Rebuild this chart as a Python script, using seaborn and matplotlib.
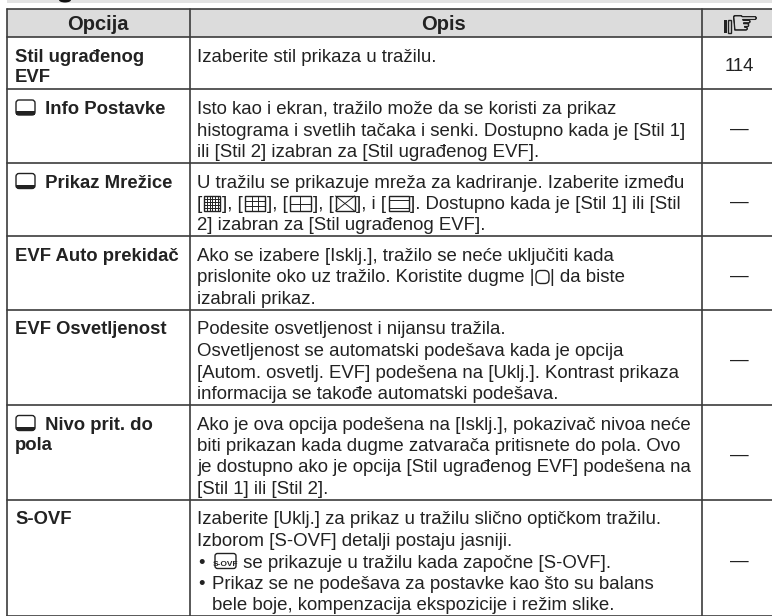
import seaborn as sns
import pandas as pd
import matplotlib.pyplot as plt
import matplotlib.patheffects as pe
from matplotlib.patches import Rectangle, FancyBboxPatch, Ellipse

headers = ["Opcija", "Opis", "☞"]

options = [
    ["Stil ugrađenog", "EVF"],
    ["@mon Info Postavke"],
    ["@mon Prikaz Mrežice"],
    ["EVF Auto prekidač"],
    ["EVF Osvetljenost"],
    ["@mon Nivo prit. do", "pola"],
    ["S-OVF"],
]

descriptions = [
    ["Izaberite stil prikaza u tražilu."],
    ["Isto kao i ekran, tražilo može da se koristi za prikaz",
     "histograma i svetlih tačaka i senki. Dostupno kada je [Stil 1]",
     "ili [Stil 2] izabran za [Stil ugrađenog EVF]."],
    ["U tražilu se prikazuje mreža za kadriranje. Izaberite između",
     "[@g1], [@g2], [@g3], [@g4], i [@g5]. Dostupno kada je [Stil 1] ili [Stil",
     "2] izabran za [Stil ugrađenog EVF]."],
    ["Ako se izabere [Isklj.], tražilo se neće uključiti kada",
     "prislonite oko uz tražilo. Koristite dugme |@o| da biste",
     "izabrali prikaz."],
    ["Podesite osvetljenost i nijansu tražila.",
     "Osvetljenost se automatski podešava kada je opcija",
     "[Autom. osvetlj. EVF] podešena na [Uklj.]. Kontrast prikaza",
     "informacija se takođe automatski podešava."],
    ["Ako je ova opcija podešena na [Isklj.], pokazivač nivoa neće",
     "biti prikazan kada dugme zatvarača pritisnete do pola. Ovo",
     "je dostupno ako je opcija [Stil ugrađenog EVF] podešena na",
     "[Stil 1] ili [Stil 2]."],
    ["Izaberite [Uklj.] za prikaz u tražilu slično optičkom tražilu.",
     "Izborom [S-OVF] detalji postaju jasniji.",
     "• @sovf se prikazuje u tražilu kada započne [S-OVF].",
     "• Prikaz se ne podešava za postavke kao što su balans",
     "  bele boje, kompenzacija ekspozicije i režim slike."],
]

pages = ["114", "—", "—", "—", "—", "—", "—"]

INK = "#222222"
LINE_H = 21.5
FS = 13.45
BOLD_FS = 13.3

sns.set_theme(style="white")
plt.rcParams["font.family"] = ["Liberation Sans", "DejaVu Sans"]

fig = plt.figure(figsize=(7.72, 6.16), dpi=100)
ax = fig.add_axes([0, 0, 1, 1])

# row edges follow from how many text lines each row has
edges = [9, 37]
for o, d in zip(options, descriptions):
    edges.append(edges[-1] + max(len(o), len(d)) * LINE_H + 9)
col_x = [7, 190, 702]

frames = []
for i, y in enumerate(edges):
    frames.append(pd.DataFrame({"x": [col_x[0], 772], "y": [y, y], "rule": f"h{i}"}))
for x in col_x:
    frames.append(pd.DataFrame({"x": [x, x], "y": [edges[0], 616], "rule": f"v{x}"}))
rules = pd.concat(frames)
sns.lineplot(data=rules, x="x", y="y", units="rule", estimator=None, sort=False,
             color="#3c3c3c", lw=1.2, ax=ax)

ax.axhspan(edges[0], edges[1], xmin=7 / 772, color="#dcdcdc", zorder=0, lw=0)
ax.axhspan(0, 3, xmin=7 / 772, color="#e2e2e2", zorder=0, lw=0)
ax.set_xlim(0, 772)
ax.set_ylim(616, 0)
ax.axis("off")

renderer = fig.canvas.get_renderer()

# widths of the inline pictograms
icon_w = {"g1": 20, "g2": 24, "g3": 25, "g4": 23, "g5": 24}


def icon(name, x, base):
    # x, base in pixels, returns the width taken
    kw = dict(fill=False, ec=INK, lw=1.0)
    if name == "mon":
        ax.add_patch(FancyBboxPatch((x + 1, base - 14), 19, 15,
                                    boxstyle="round,pad=0,rounding_size=3", **kw))
        ax.add_patch(Rectangle((x + 1, base - 3), 19, 3.5, color=INK, lw=0))
        return 25
    if name in icon_w:
        w = icon_w[name]
        left, right, top, bot = x + 2, x + w - 2, base - 13, base + 2
        cx, cy = (left + right) / 2, (top + bot) / 2
        ax.add_patch(Rectangle((left, top), right - left, bot - top, **kw))
        segs = []
        if name == "g1":
            for k in range(1, 6):
                segs.append(([left + k * (right - left) / 6] * 2, [top, bot]))
            for k in range(1, 5):
                segs.append(([left, right], [top + k * (bot - top) / 5] * 2))
        if name == "g2":
            for k in (1, 2):
                segs.append(([left + k * (right - left) / 3] * 2, [top, bot]))
                segs.append(([left, right], [top + k * (bot - top) / 3] * 2))
        if name == "g3":
            segs.append(([cx, cx], [top, bot]))
            segs.append(([left, right], [cy, cy]))
        if name == "g4":
            segs.append(([left, right], [top, bot]))
            segs.append(([left, right], [bot, top]))
        if name == "g5":
            segs.append(([left, right], [top + 3.5, top + 3.5]))
            segs.append(([left, right], [bot - 3.5, bot - 3.5]))
        for xs, ys in segs:
            ax.plot(xs, ys, color=INK, lw=0.7)
        return w
    if name == "o":
        ax.add_patch(FancyBboxPatch((x + 1.5, base - 12), 13, 13,
                                    boxstyle="round,pad=0,rounding_size=4.5", **kw))
        return 16
    if name == "sovf":
        ax.add_patch(FancyBboxPatch((x + 3, base - 14), 21, 15,
                                    boxstyle="round,pad=0,rounding_size=2.5", **kw))
        ax.text(x + 13.5, base - 2, "S-OVF", fontsize=6, ha="center", va="baseline",
                color=INK, fontweight="bold")
        return 26
    return 0


def measure(t, val):
    # the trailing space is not measured, so measure with a stop and take the stop off
    t.set_text(val + "|")
    w = t.get_window_extent(renderer).width
    t.set_text("|")
    w -= t.get_window_extent(renderer).width
    t.set_text(val)
    return w


def write(line, x, base, weight="normal", size=FS):
    # lay a line out piece by piece so that icons sit inside the text
    cur = x
    i = 0
    pieces = []
    buf = ""
    while i < len(line):
        if line[i] == "@":
            j = i + 1
            while j < len(line) and line[j].isalnum():
                j += 1
            pieces.append(("t", buf))
            pieces.append(("i", line[i + 1:j]))
            buf = ""
            i = j
        else:
            buf += line[i]
            i += 1
    pieces.append(("t", buf))
    for kind, val in pieces:
        if kind == "i":
            cur += icon(val, cur, base)
        elif val:
            t = ax.text(cur, base, val, fontsize=size, fontweight=weight, color=INK,
                        va="baseline", ha="left")
            cur += measure(t, val)


ax.text(98, 30, headers[0], fontsize=14.5, fontweight="bold", ha="center", va="baseline", color=INK)
ax.text(444, 30, headers[1], fontsize=14.5, fontweight="bold", ha="center", va="baseline", color=INK)
hand = ax.text(745, 33.5, headers[2], fontsize=23, ha="center", va="baseline", color=INK,
               family="DejaVu Sans")
hand.set_path_effects([pe.withStroke(linewidth=0.5, foreground=INK)])
ax.add_patch(Rectangle((724, 20), 2.5, 13, color=INK, lw=0))
ax.add_patch(Rectangle((728, 20), 3, 13, fill=False, ec=INK, lw=1.0))

# the cut off descender from the heading above the table
ax.add_patch(Ellipse((65, 0), 12, 5, color="#111111", lw=0))

for r, (opt, desc, page) in enumerate(zip(options, descriptions, pages)):
    top = edges[r + 1]
    for k, line in enumerate(opt):
        write(line, 15, top + 25 + k * 20, weight="bold", size=BOLD_FS)
    for k, line in enumerate(desc):
        base = top + 25 + k * LINE_H
        if line.startswith("• "):
            ax.text(198, base, "•", fontsize=FS, color=INK, va="baseline")
            write(line[2:], 212, base)
        elif line.startswith("  "):
            write(line[2:], 212, base)
        else:
            write(line, 197, base)
    ax.text(739, (top + edges[r + 2]) / 2 + 8, page, fontsize=FS, ha="center", va="baseline", color=INK)

fig.savefig("out.png", dpi=100)
